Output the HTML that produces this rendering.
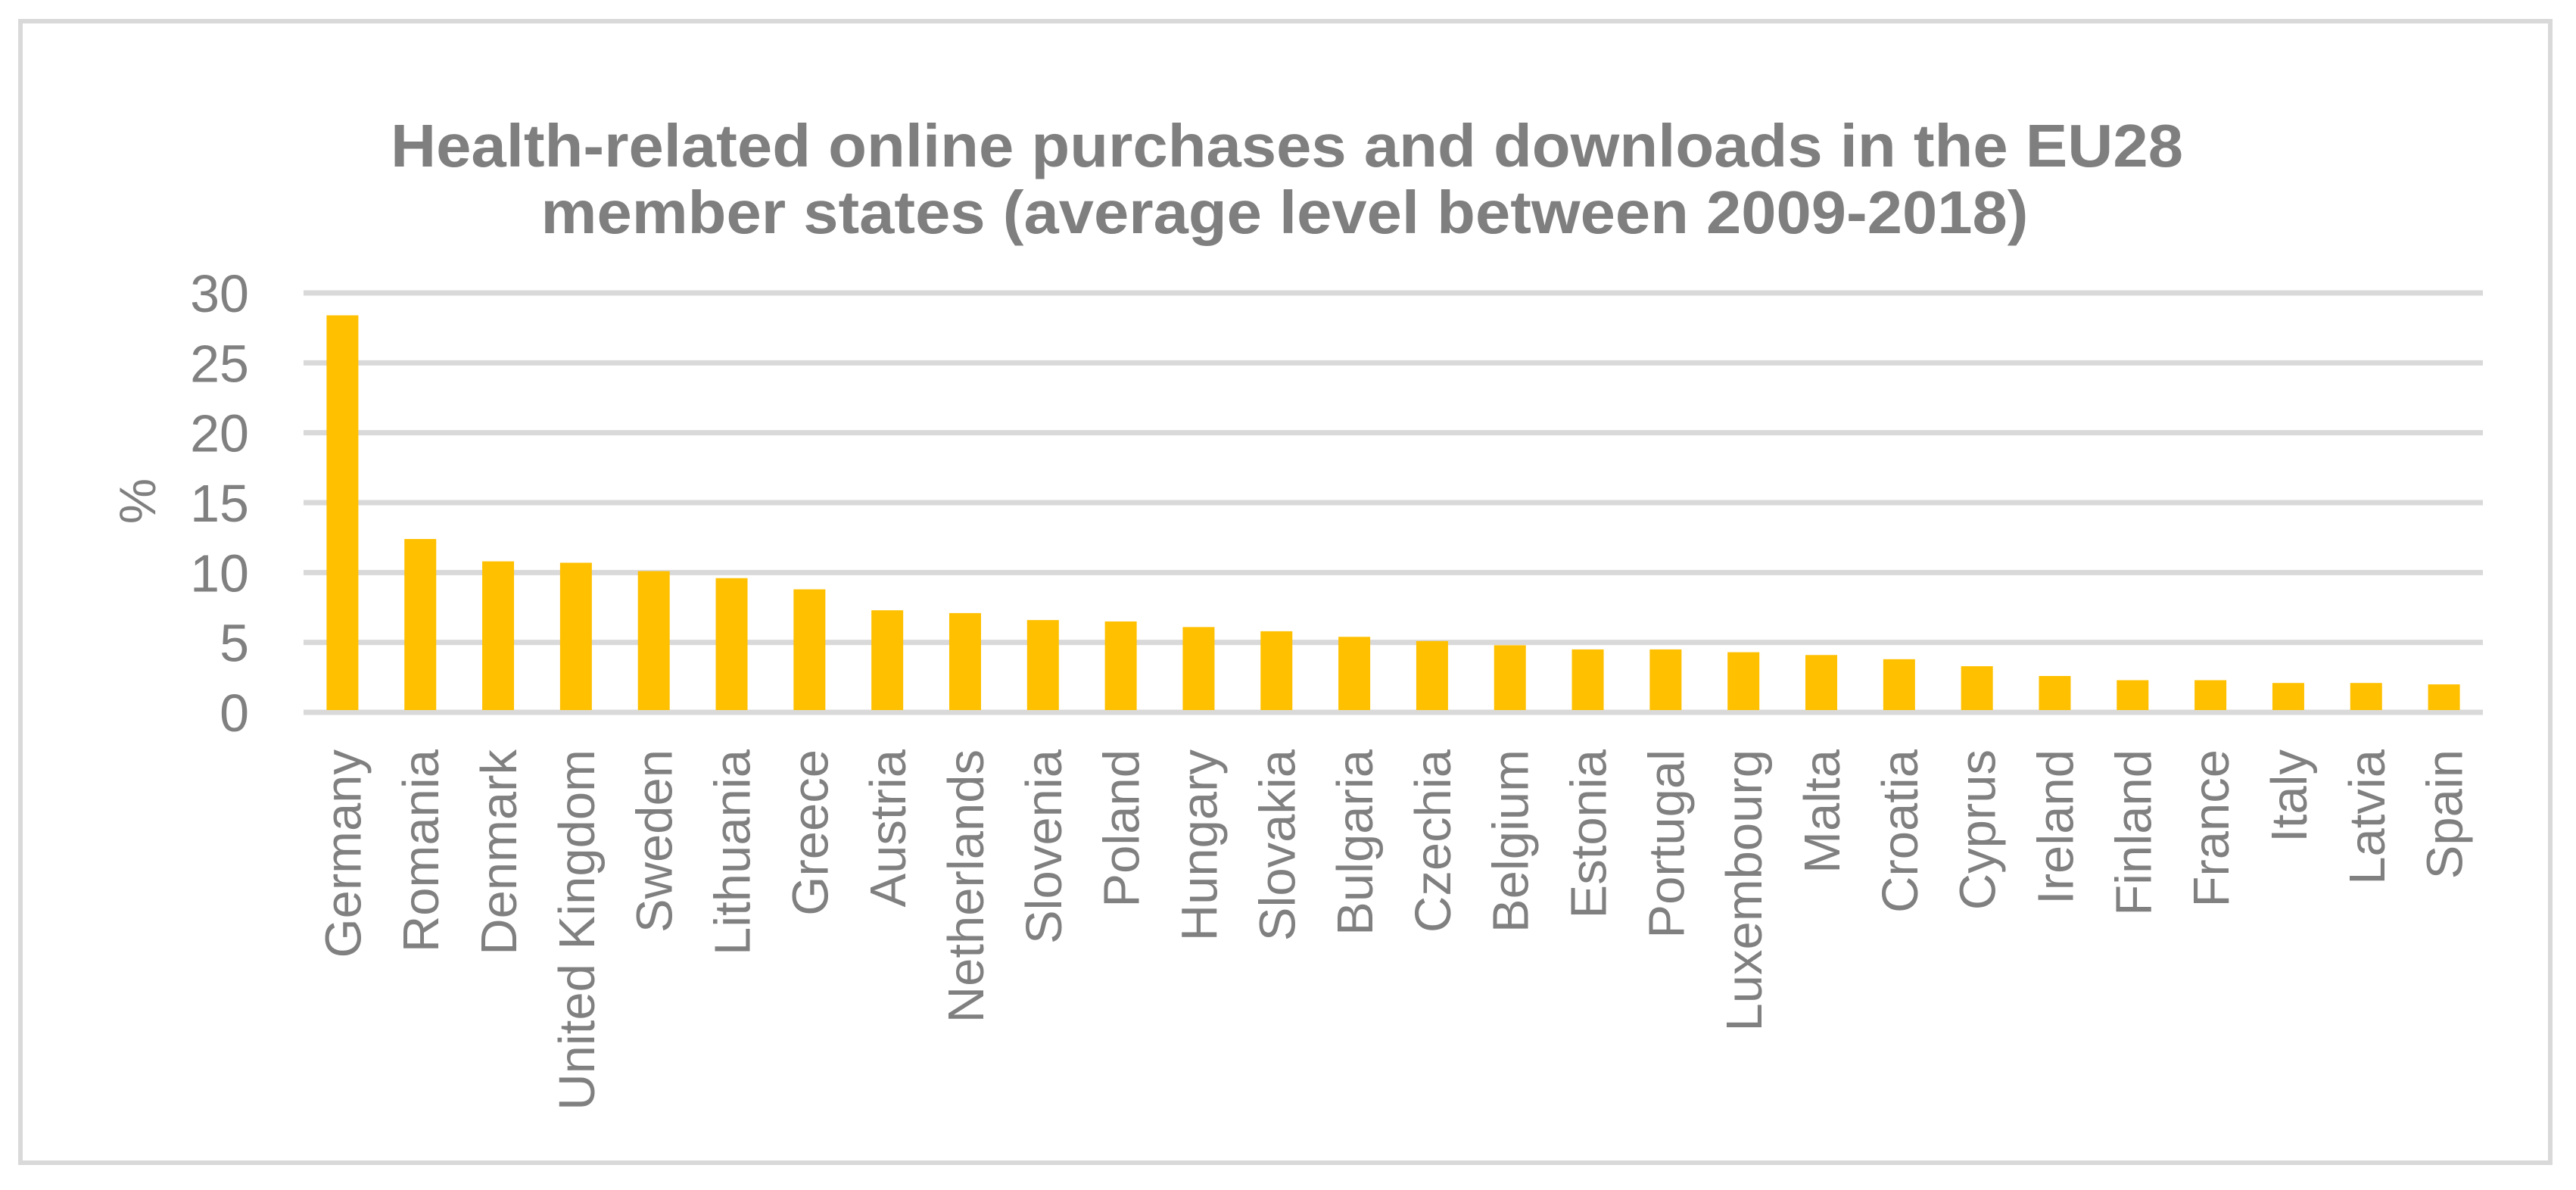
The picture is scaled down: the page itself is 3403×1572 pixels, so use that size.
<!DOCTYPE html>
<html><head><meta charset="utf-8"><style>
html,body{margin:0;padding:0;background:#fff;}
svg{display:block;font-family:"Liberation Sans",sans-serif;}
</style></head><body>
<svg id="chart" width="3403" height="1572" viewBox="0 0 3403 1572">
<rect x="27" y="28" width="3342" height="1508" fill="#fff" stroke="#d9d9d9" stroke-width="6"/>
<text x="1700" y="220" text-anchor="middle" font-size="80" font-weight="bold" fill="#7f7f7f" textLength="2368" lengthAdjust="spacingAndGlyphs">Health-related online purchases and downloads in the EU28</text>
<text x="1697" y="308" text-anchor="middle" font-size="80" font-weight="bold" fill="#7f7f7f" textLength="1965" lengthAdjust="spacingAndGlyphs">member states (average level between 2009-2018)</text>
<text transform="translate(205,662) rotate(-90)" text-anchor="middle" font-size="68" fill="#808080">%</text>
<g id="grid"></g><g id="bars"></g><g id="labels"></g>
</svg>
<script>
const categories = ["Germany","Romania","Denmark","United Kingdom","Sweden","Lithuania","Greece","Austria","Netherlands","Slovenia","Poland","Hungary","Slovakia","Bulgaria","Czechia","Belgium","Estonia","Portugal","Luxembourg","Malta","Croatia","Cyprus","Ireland","Finland","France","Italy","Latvia","Spain"];
const values = [28.4,12.4,10.8,10.7,10.1,9.6,8.8,7.3,7.1,6.6,6.5,6.1,5.8,5.4,5.1,4.8,4.5,4.5,4.3,4.1,3.8,3.3,2.6,2.3,2.3,2.1,2.1,2.0];
const yTicks = [0,5,10,15,20,25,30];

const NS = "http://www.w3.org/2000/svg";
const plotL = 401, plotR = 3280, y0 = 941, y30 = 387;
const yScale = v => y0 - (v / 30) * (y0 - y30);
const band = (plotR - plotL) / categories.length;
const xCenter = i => plotL + band * (i + 0.5);
const barW = 42;

const grid = document.getElementById('grid');
yTicks.forEach(t => {
  const y = yScale(t);
  const l = document.createElementNS(NS, 'line');
  l.setAttribute('x1', plotL); l.setAttribute('x2', plotR);
  l.setAttribute('y1', y); l.setAttribute('y2', y);
  l.setAttribute('stroke', '#d9d9d9'); l.setAttribute('stroke-width', '7');
  
  
  grid.appendChild(l);
  const tx = document.createElementNS(NS, 'text');
  tx.setAttribute('x', 329); tx.setAttribute('y', y + 25);
  tx.setAttribute('text-anchor', 'end'); tx.setAttribute('font-size', '70');
  tx.setAttribute('fill', '#808080');
  tx.textContent = t;
  
  
  grid.appendChild(tx);
});

const bars = document.getElementById('bars');
const labels = document.getElementById('labels');
values.forEach((v, i) => {
  const r = document.createElementNS(NS, 'rect');
  const top = yScale(v);
  r.setAttribute('x', xCenter(i) - barW / 2);
  r.setAttribute('y', top);
  r.setAttribute('width', barW);
  r.setAttribute('height', y0 - 3 - top);
  r.setAttribute('fill', '#ffc000');
  
  
  bars.appendChild(r);
  const t = document.createElementNS(NS, 'text');
  const cx = xCenter(i) + 24;
  t.setAttribute('transform', 'translate(' + cx + ',990) rotate(-90)');
  t.setAttribute('text-anchor', 'end');
  t.setAttribute('font-size', '67');
  t.setAttribute('fill', '#808080');
  t.textContent = categories[i];
  
  
  labels.appendChild(t);
});
</script>
</body></html>
